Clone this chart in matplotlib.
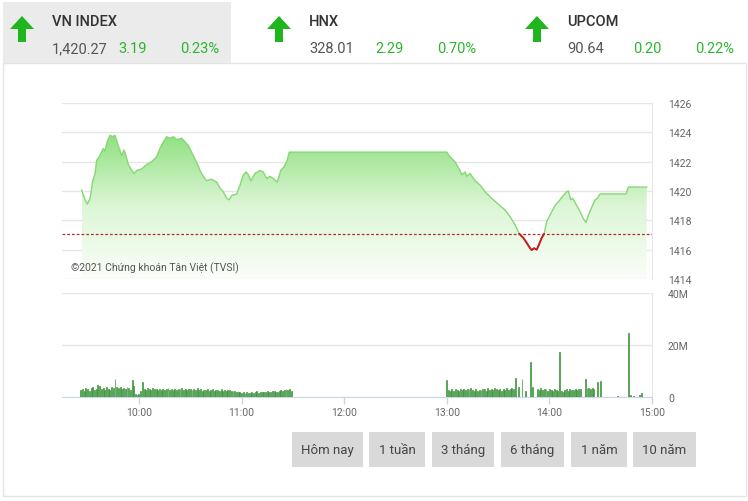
import numpy as np
import matplotlib
matplotlib.use("Agg")
import matplotlib.pyplot as plt
from matplotlib.colors import LinearSegmentedColormap
from matplotlib.patches import Polygon, Rectangle
from matplotlib.ticker import FixedLocator

plt.rcParams['font.family'] = ['Roboto', 'DejaVu Sans']

# ---------------- data ----------------
ref_price = 1417.08

# price: time in minutes since 9:00, index value
price_t = [26.5, 28.5, 29.8, 31.4, 33.0, 34.3, 35.3, 36.8, 39.2, 40.1, 41.5, 43.1, 44.6, 46.0,
           47.9, 49.9, 51.3, 52.4, 53.8, 55.8, 57.1, 58.7, 61.6, 64.5, 67.5, 70.4, 72.3, 74.2,
           76.2, 78.2, 80.1, 82.1, 85.0, 86.9, 88.9, 91.8, 94.7, 95.7, 97.6, 99.6, 102.5, 105.5,
           107.4, 109.3, 111.3, 112.8, 114.2, 117.2, 119.1, 121.0, 122.6, 124.0, 125.4, 127.9,
           130.8, 132.7, 134.7, 136.6, 138.6, 140.9, 142.9, 144.8, 146.4, 147.9, 150.0,
           240.0, 241.9, 244.8, 247.7, 248.7, 250.7, 251.7, 253.6, 256.6, 259.5, 262.4, 265.3,
           268.2, 271.1, 274.1, 277.0, 279.9, 282.4, 284.8, 287.1, 288.7, 289.7, 291.0, 292.6,
           294.1, 295.5, 296.9, 298.4, 301.4, 303.3, 306.2, 308.2, 310.1, 311.1, 312.5, 313.7,
           316.0, 317.9, 319.9, 321.4, 322.8, 324.8, 326.7, 328.1, 329.6, 344.8, 346.2, 356.9]
price_v = [1420.06, 1419.4, 1419.1, 1419.5, 1420.7, 1421.2, 1422.1, 1422.35, 1422.9, 1422.7,
           1423.4, 1423.8, 1423.7, 1423.8, 1423.1, 1422.4, 1422.8, 1422.4, 1421.8, 1421.4,
           1421.2, 1421.4, 1421.5, 1421.8, 1422.0, 1422.35, 1422.9, 1423.35, 1423.7, 1423.6,
           1423.7, 1423.5, 1423.6, 1423.35, 1423.1, 1422.4, 1421.7, 1421.4, 1421.0, 1420.7,
           1420.8, 1420.6, 1420.2, 1419.95, 1419.5, 1419.4, 1419.7, 1419.8, 1420.4, 1421.1,
           1421.3, 1421.1, 1420.7, 1421.2, 1421.4, 1421.3, 1420.85, 1421.0, 1420.85, 1420.6,
           1421.4, 1421.65, 1422.0, 1422.65, 1422.65,
           1422.65, 1422.33, 1422.0, 1421.4, 1421.1, 1421.3, 1421.0, 1421.2, 1420.7, 1420.4,
           1419.95, 1419.6, 1419.3, 1419.0, 1418.7, 1418.25, 1417.7, 1417.08, 1416.8, 1416.4,
           1416.1, 1415.97, 1416.1, 1416.0, 1416.4, 1416.8, 1417.08, 1417.9, 1418.6, 1419.0,
           1419.4, 1419.7, 1419.95, 1420.0, 1419.4, 1419.5, 1419.0, 1418.6, 1418.1, 1417.85,
           1418.35, 1418.9, 1419.4, 1419.5, 1419.8, 1419.8, 1420.27, 1420.27]

# volume (million shares), one bar per minute
vol_am_start = 26      # 9:26
vol_am = [2.6, 2.9, 2.4, 3.3, 3.0, 2.5, 3.6, 3.8, 2.7, 3.2,
          4.6, 4.2, 2.9, 3.5, 2.6, 3.9, 3.1, 2.8, 3.7, 3.3,
          7.0, 3.8, 3.6, 4.0, 3.2, 3.5, 2.9, 3.7, 3.4, 2.7,
          6.5, 4.1, 1.2, 0.9, 1.1, 2.4, 5.6, 3.2, 2.8, 3.4,
          3.1, 2.7, 3.3, 2.9, 3.0, 2.6, 3.2, 2.8, 3.1, 2.7,
          2.9, 3.3, 2.6, 3.0, 2.8, 3.2, 2.7, 3.1, 2.9, 3.4,
          2.8, 3.0, 2.6, 3.2, 2.9, 2.7, 3.1, 2.8, 3.3, 2.6,
          2.9, 2.5, 2.8, 2.6, 3.0, 2.4, 2.7, 2.9, 2.5, 2.8,
          2.6, 2.4, 2.9, 2.5, 2.7, 2.3, 2.6, 2.8, 2.4, 2.5,
          2.2, 2.0, 1.8, 2.1, 1.7, 1.9, 1.6, 1.8, 1.5, 1.7,
          1.9, 1.6, 1.8, 2.2, 1.7, 2.0, 1.8, 2.1, 1.9, 2.3,
          2.0, 1.8, 2.2, 2.4, 2.1, 1.9, 2.5, 2.8, 2.2, 2.6,
          3.0, 2.7, 2.9, 2.4]
vol_pm_start = 240     # 13:00
vol_pm = [6.5, 2.6, 2.2, 2.9, 2.4, 3.1, 2.7, 2.3, 3.0, 2.8,
          3.2, 2.6, 3.1, 2.9, 3.3, 2.7, 2.5, 3.0, 2.4, 2.8,
          2.6, 3.2, 2.9, 2.5, 3.4, 2.8, 3.1, 2.6, 3.3, 2.9,
          2.7, 3.0, 2.5, 3.2, 2.8, 3.5, 2.6, 3.1, 3.6, 2.9,
          7.5, 0.0, 3.7, 0.0, 7.0, 0.0, 2.5, 0.0, 0.0, 13.5,
          3.7, 0.0, 0.0, 3.2, 2.8, 3.4, 2.6, 3.0, 2.9, 2.5,
          3.1, 2.7, 2.4, 2.9, 2.6, 2.2, 17.5, 2.4, 2.0, 2.7,
          2.9, 2.5, 3.0, 2.6, 2.8, 3.1, 2.7, 3.2, 2.9, 0.0,
          0.0, 6.8, 3.4, 3.6, 3.2, 3.5, 2.9, 0.0, 5.8, 0.0, 6.2]
vol_late_t = [340, 346, 347.5, 349, 352.6, 353.7]
vol_late = [0.5, 24.5, 0.6, 0.5, 0.8, 1.5]

price_ticks = [1414, 1416, 1418, 1420, 1422, 1424, 1426]
vol_ticks = [0, 20, 40]
vol_tick_labels = ['0', '20M', '40M']
time_ticks = [60, 120, 180, 240, 300, 360]
time_labels = ['10:00', '11:00', '12:00', '13:00', '14:00', '15:00']

header = [
    ('VN INDEX', '1,420.27', '3.19', '0.23%'),
    ('HNX', '328.01', '2.29', '0.70%'),
    ('UPCOM', '90.64', '0.20', '0.22%'),
]
buttons = ['Hôm nay', '1 tuần', '3 tháng', '6 tháng', '1 năm', '10 năm']
copyright_text = '©2021 Chứng khoán Tân Việt (TVSI)'

# ---------------- figure ----------------
W, H = 748, 502
fig = plt.figure(figsize=(W / 100, H / 100), dpi=100)
fig.patch.set_facecolor('white')


def fx(x):
    return x / W


def fy(y):
    return 1 - y / H


GREEN_TXT = '#2db52d'
ARROW = '#1fb51f'
GRID = '#e6e6e6'
AXLINE = '#ccd6eb'
LBL = '#666666'

# background card & header panel
fig.patches.append(Rectangle((fx(3), fy(497)), fx(743), (497 - 64) / H, transform=fig.transFigure,
                             facecolor='white', edgecolor='#e4e4e4', lw=1.0, zorder=-5))
fig.patches.append(Rectangle((fx(3), fy(64)), fx(228), 61 / H, transform=fig.transFigure,
                             facecolor='#ebebeb', edgecolor='none', zorder=-5))

# header items
hx = [10, 267, 525]
for (name, val, chg, pct), x0 in zip(header, hx):
    pts = [(x0 + 12, 17), (x0 + 24, 30), (x0 + 16, 30), (x0 + 16, 43),
           (x0 + 8, 43), (x0 + 8, 30), (x0 + 0, 30)]
    fig.patches.append(Polygon([(fx(a), fy(b)) for a, b in pts], closed=True,
                               transform=fig.transFigure, facecolor=ARROW, edgecolor='none',
                               zorder=2))
    tx = x0 + 42
    fig.text(fx(tx), fy(26.5), name, fontsize=10.5, color='#333333', fontweight='medium',
             ha='left', va='baseline')
    fig.text(fx(tx), fy(53), val, fontsize=10.5, color='#555555', ha='left', va='baseline')
    fig.text(fx(tx + 66), fy(53), chg, fontsize=10.5, color=GREEN_TXT, ha='left', va='baseline')
    fig.text(fx(tx + 167), fy(53), pct, fontsize=10.5, color=GREEN_TXT, ha='right', va='baseline')

# ---------------- price axes ----------------
xl, xr = 62, 652
ax = fig.add_axes([fx(xl), fy(280), (xr - xl) / W, (280 - 104) / H])
ax.set_zorder(1)
ax.set_xlim(15, 360)
ax.set_ylim(1414, 1426)
t = np.array(price_t)
v = np.array(price_v)

verts = [(t[0], 1414)] + list(zip(t, v)) + [(t[-1], 1414)]
poly = Polygon(verts, closed=True, facecolor='none', edgecolor='none')
ax.add_patch(poly)
cmap = LinearSegmentedColormap.from_list('g', ['#fafef9', '#dcf6d6', '#8de07e'])
grad = np.linspace(1, 0, 256).reshape(-1, 1)
im = ax.imshow(grad, extent=[t[0], t[-1], 1414, 1424], aspect='auto', cmap=cmap,
               origin='upper', zorder=1, interpolation='bilinear')
im.set_clip_path(poly)
ax.set_xlim(15, 360)
ax.set_ylim(1414, 1426)

ax.plot(t, v, color='#86d874', lw=1.0, zorder=3)
below = v <= ref_price + 1e-9
vr = np.where(below, v, np.nan)
ax.plot(t, vr, color='#cc1a1a', lw=1.4, zorder=4, solid_capstyle='round')
ax.axhline(ref_price, color='#b03030', lw=0.9, ls=(0, (2.2, 1.6)), zorder=5)

ax.yaxis.set_major_locator(FixedLocator(price_ticks))
ax.grid(axis='y', color=GRID, lw=1.0, zorder=0)
ax.set_axisbelow(True)
ax.yaxis.tick_right()
ax.tick_params(axis='y', length=0, pad=11.5, labelsize=7.5, labelcolor=LBL)
ax.set_xticks([])
for s in ['top', 'left', 'bottom']:
    ax.spines[s].set_visible(False)
ax.spines['right'].set_color(GRID)
ax.set_facecolor('none')
ax.text(0.015, 0.05, copyright_text, transform=ax.transAxes, fontsize=7.5,
        color='#555555', ha='left', va='baseline', zorder=6)

# ---------------- volume axes ----------------
axv = fig.add_axes([fx(xl), fy(398), (xr - xl) / W, (398 - 294) / H])
axv.set_zorder(1)
axv.set_xlim(15, 360)
axv.set_ylim(0, 40)
am_t = vol_am_start + np.arange(len(vol_am))
pm_t = vol_pm_start + np.arange(len(vol_pm))
bt = np.concatenate([am_t, pm_t, vol_late_t])
bv = np.concatenate([vol_am, vol_pm, vol_late])
axv.bar(bt, bv, width=0.55, color='#5cb85c', edgecolor='#3a8f3a', lw=0.5, zorder=3)
axv.yaxis.set_major_locator(FixedLocator(vol_ticks))
axv.set_yticklabels(vol_tick_labels)
axv.grid(axis='y', color=GRID, lw=1.0, zorder=0)
axv.set_axisbelow(True)
axv.yaxis.tick_right()
axv.tick_params(axis='y', length=0, pad=11.5, labelsize=7.5, labelcolor=LBL)
axv.set_xticks(time_ticks)
axv.set_xticklabels(time_labels)
axv.tick_params(axis='x', length=5, color=AXLINE, width=1, labelsize=7.5,
                labelcolor=LBL, pad=2)
for s in ['top', 'left']:
    axv.spines[s].set_visible(False)
axv.spines['bottom'].set_color(AXLINE)
axv.spines['right'].set_color(GRID)
axv.set_facecolor('none')

# ---------------- buttons ----------------
bx = [(292, 363), (369, 425), (432, 494), (501, 564), (571, 627), (633, 696)]
for label, (a, b) in zip(buttons, bx):
    fig.patches.append(Rectangle((fx(a), fy(468)), (b - a) / W, 35 / H, transform=fig.transFigure,
                                 facecolor='#d9d9d9', edgecolor='none', zorder=2))
    fig.text(fx((a + b) / 2), fy(450.5), label, fontsize=9.5, color='#444444',
             ha='center', va='center')

fig.savefig('out.png', dpi=100, facecolor='white')
